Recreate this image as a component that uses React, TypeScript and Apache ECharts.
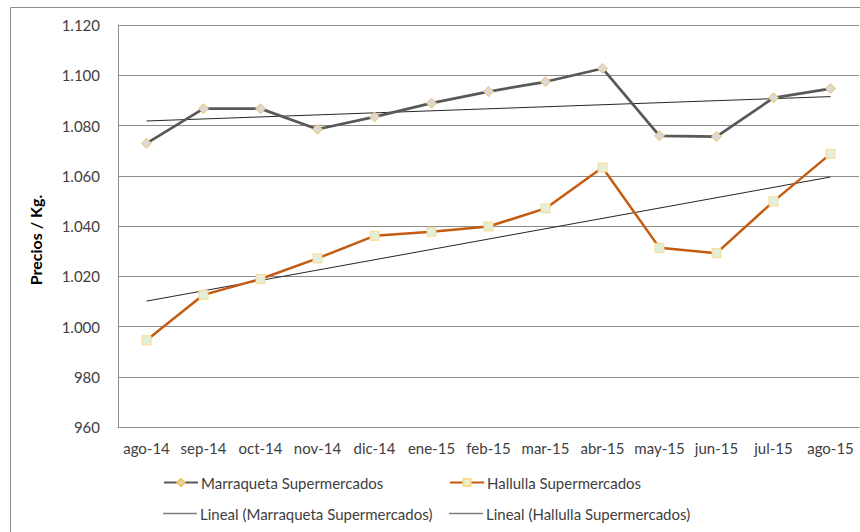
import React, { useEffect, useRef } from "react";
import * as echarts from "echarts";

const categories = ["ago-14","sep-14","oct-14","nov-14","dic-14","ene-15","feb-15","mar-15","abr-15","may-15","jun-15","jul-15","ago-15"];
const marraqueta = [1072.9,1086.7,1086.7,1078.5,1083.4,1088.9,1093.5,1097.4,1102.7,1075.9,1075.6,1091.0,1094.7];
const hallulla = [994.5,1012.6,1018.9,1027.1,1036.1,1037.7,1039.8,1047.0,1063.3,1031.3,1029.2,1049.8,1068.7];
// trend line endpoints (first and last category)
const trendMarraqueta = [1081.8, 1091.5];
const trendHallulla = [1010.1, 1059.5];
const yTicks = { min: 960, max: 1120, step: 20 };

const seriesNames = [
  "Marraqueta Supermercados",
  "Hallulla Supermercados",
  "Lineal (Marraqueta Supermercados)",
  "Lineal (Hallulla Supermercados)",
];

const FONT = "Lato";

export default function App() {
  const ref = useRef<HTMLDivElement>(null);
  useEffect(() => {
    if (!ref.current) return;
    const chart = echarts.init(ref.current, null, { renderer: "svg" });
    const last = categories.length - 1;
    const legendBase = {
      orient: "horizontal",
      padding: 0,
      itemWidth: 34,
      itemHeight: 9,
      itemGap: 0,
      textStyle: { fontFamily: FONT, fontSize: 15, color: "#404040", padding: [0, 0, 0, -2] },
    };
    const trendLegendItem = (name: string) => ({
      name,
      icon: "rect",
      itemStyle: { color: "#7f7f7f", borderWidth: 0 },
    });
    chart.setOption({
      animation: false,
      backgroundColor: "#fff",
      grid: { left: 118, right: 1, top: 25, bottom: 105 },
      graphic: [
        {
          type: "rect",
          shape: { x: 10.5, y: 7.5, width: 900, height: 600 },
          style: { fill: "none", stroke: "#8c8c8c", lineWidth: 1 },
          silent: true,
        },
        {
          type: "text",
          x: 35,
          y: 240,
          rotation: Math.PI / 2,
          style: {
            text: "Precios / Kg.",
            fontFamily: FONT,
            fontSize: 16,
            fontWeight: "bold",
            fill: "#000",
            align: "center",
            verticalAlign: "middle",
          },
        },
      ],
      legend: [
        { ...legendBase, data: [seriesNames[0]], left: 163, top: 475 },
        { ...legendBase, data: [seriesNames[1]], left: 449, top: 475 },
        { ...legendBase, itemHeight: 1.5, data: [trendLegendItem(seriesNames[2])], left: 163, top: 506 },
        { ...legendBase, itemHeight: 1.5, data: [trendLegendItem(seriesNames[3])], left: 449, top: 506 },
      ],
      xAxis: {
        type: "category",
        data: categories,
        boundaryGap: true,
        axisLine: { show: true, lineStyle: { color: "#8c8c8c", width: 1 } },
        axisTick: { show: false },
        axisLabel: { fontFamily: FONT, fontSize: 15, color: "#404040", margin: 13, interval: 0 },
      },
      yAxis: {
        type: "value",
        min: yTicks.min,
        max: yTicks.max,
        interval: yTicks.step,
        axisLine: { show: true, lineStyle: { color: "#8c8c8c", width: 1 } },
        axisTick: { show: false },
        splitLine: { show: true, lineStyle: { color: "#8c8c8c", width: 1 } },
        axisLabel: {
          fontFamily: FONT,
          fontSize: 15,
          color: "#404040",
          margin: 18,
          formatter: (v: number) => {
            if (v >= 1000) {
              const r = Math.round(v - 1000);
              return "1." + String(r).padStart(3, "0");
            }
            return String(v);
          },
        },
      },
      series: [
        {
          name: seriesNames[0],
          type: "line",
          data: marraqueta,
          symbol: "diamond",
          symbolSize: 10,
          lineStyle: { color: "#595959", width: 2.75 },
          itemStyle: { color: "#d9d9d9", borderColor: "#f2c45a", borderWidth: 1 },
          z: 3,
        },
        {
          name: seriesNames[1],
          type: "line",
          data: hallulla,
          symbol: "rect",
          symbolSize: 9,
          lineStyle: { color: "#c55a11", width: 2.5 },
          itemStyle: { color: "#e2efda", borderColor: "#ffd98a", borderWidth: 1 },
          z: 3,
        },
        {
          name: seriesNames[2],
          type: "line",
          data: [[0, trendMarraqueta[0]], [last, trendMarraqueta[1]]],
          symbol: "none",
          lineStyle: { color: "#262626", width: 1 },
          itemStyle: { color: "#7f7f7f" },
          z: 2,
        },
        {
          name: seriesNames[3],
          type: "line",
          data: [[0, trendHallulla[0]], [last, trendHallulla[1]]],
          symbol: "none",
          lineStyle: { color: "#262626", width: 1 },
          itemStyle: { color: "#7f7f7f" },
          z: 2,
        },
      ],
    });
    return () => chart.dispose();
  }, []);
  return <div ref={ref} style={{ width: 860, height: 532, position: "absolute", left: 0, top: 0 }} />;
}
